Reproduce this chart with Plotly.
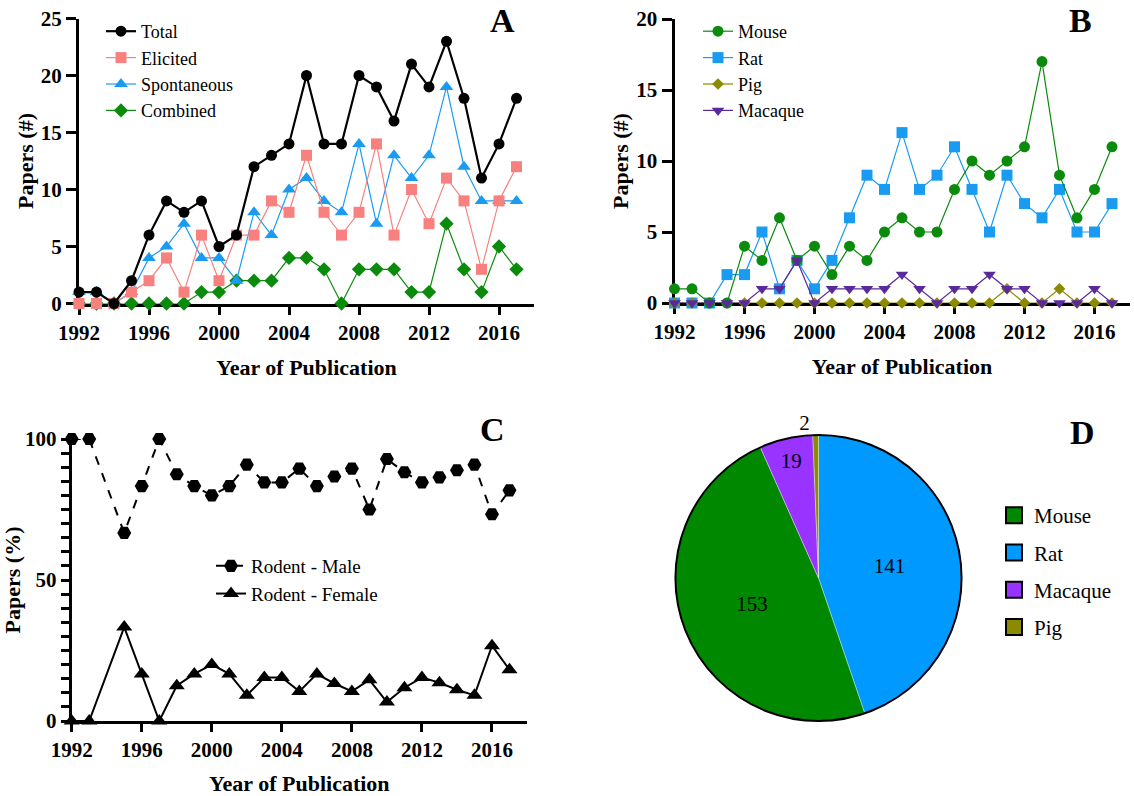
import plotly.graph_objects as go

W, H = 1134, 796
FONT = "Liberation Serif"

years = list(range(1992, 2018))
year_ticks = [1992, 1996, 2000, 2004, 2008, 2012, 2016]

# Panel A: papers by paradigm
a_total       = [1, 1, 0, 2, 6, 9, 8, 9, 5, 6, 12, 13, 14, 20, 14, 14, 20, 19, 16, 21, 19, 23, 18, 11, 14, 18]
a_elicited    = [0, 0, 0, 1, 2, 4, 1, 6, 2, 6, 6, 9, 8, 13, 8, 6, 8, 14, 6, 10, 7, 11, 9, 3, 9, 12]
a_spontaneous = [1, 1, 0, 1, 4, 5, 7, 4, 4, 2, 8, 6, 10, 11, 9, 8, 14, 7, 13, 11, 13, 19, 12, 9, 9, 9]
a_combined    = [0, 0, 0, 0, 0, 0, 0, 1, 1, 2, 2, 2, 4, 4, 3, 0, 3, 3, 3, 1, 1, 7, 3, 1, 5, 3]
a_yticks = [0, 5, 10, 15, 20, 25]

# Panel B: papers by species
b_mouse   = [1, 1, 0, 0, 4, 3, 6, 3, 4, 2, 4, 3, 5, 6, 5, 5, 8, 10, 9, 10, 11, 17, 9, 6, 8, 11]
b_rat     = [0, 0, 0, 2, 2, 5, 1, 3, 1, 3, 6, 9, 8, 12, 8, 9, 11, 8, 5, 9, 7, 6, 8, 5, 5, 7]
b_pig     = [0, 0, 0, 0, 0, 0, 0, 0, 0, 0, 0, 0, 0, 0, 0, 0, 0, 0, 0, 1, 0, 0, 1, 0, 0, 0]
b_macaque = [0, 0, 0, 0, 0, 1, 1, 3, 0, 1, 1, 1, 1, 2, 1, 0, 1, 1, 2, 1, 1, 0, 0, 0, 1, 0]
b_yticks = [0, 5, 10, 15, 20]

# Panel C: sex of rodents (%)
c_male   = [100, 100, None, 66.7, 83.3, 100, 87.5, 83.3, 80, 83.3, 90.9, 84.6, 84.6, 89.5, 83.3,
            86.7, 89.5, 75, 92.9, 88.2, 84.6, 86.4, 88.9, 90.9, 73.3, 81.8]
c_female = [0, 0, None, 33.3, 16.7, 0, 12.5, 16.7, 20, 16.7, 9.1, 15.4, 15.4, 10.5, 16.7,
            13.3, 10.5, 14.6, 6.7, 11.8, 15.4, 13.6, 11.1, 9.1, 26.7, 18.2]
c_yticks = [0, 50, 100]
c_minor_step = 5

# Panel D: totals by species
d_labels = ["Rat", "Mouse", "Macaque", "Pig"]
d_values = [141, 153, 19, 2]
d_colors = ["#0099FF", "#008800", "#9933FF", "#8B8B00"]
d_legend_order = ["Mouse", "Rat", "Macaque", "Pig"]


def px_x(p):
    return p / W


def px_y(p):
    return 1 - p / H


fig = go.Figure()

# ---- Panel A (drawn bottom to top) ----
a_series = [
    ("Combined", a_combined, "#0B8B0B", "diamond", 11, 1.2),
    ("Spontaneous", a_spontaneous, "#1A9BF2", "triangle-up", 12, 1.2),
    ("Elicited", a_elicited, "#F8807F", "square", 11, 1.2),
    ("Total", a_total, "#000000", "circle", 11, 2.2),
]
for name, vals, col, sym, sz, lw in a_series:
    fig.add_trace(go.Scatter(
        x=years, y=vals, name=name, mode="lines+markers",
        line=dict(color=col, width=lw),
        marker=dict(symbol=sym, size=sz, color=col),
        cliponaxis=False, xaxis="x", yaxis="y", legend="legend",
    ))

# ---- Panel B ----
b_series = [
    ("Rat", b_rat, "#1A9BF2", "square", 11, 2),
    ("Pig", b_pig, "#8C8A00", "diamond", 9, 3),
    ("Mouse", b_mouse, "#0B8B0B", "circle", 11, 1),
    ("Macaque", b_macaque, "#5A2A9A", "triangle-down", 11, 4),
]
for name, vals, col, sym, sz, rank in b_series:
    fig.add_trace(go.Scatter(
        x=years, y=vals, name=name, mode="lines+markers",
        line=dict(color=col, width=1.2),
        marker=dict(symbol=sym, size=sz, color=col),
        cliponaxis=False, xaxis="x2", yaxis="y2", legend="legend2", legendrank=rank,
    ))

# ---- Panel C ----
fig.add_trace(go.Scatter(
    x=years, y=c_male, name="Rodent - Male", mode="lines+markers", connectgaps=True,
    line=dict(color="black", width=2, dash="dash"),
    marker=dict(symbol="hexagon2", size=14, color="black"),
    cliponaxis=False, xaxis="x3", yaxis="y3", legend="legend3",
))
fig.add_trace(go.Scatter(
    x=years, y=c_female, name="Rodent - Female", mode="lines+markers", connectgaps=True,
    line=dict(color="black", width=2),
    marker=dict(symbol="triangle-up", size=14, color="black"),
    cliponaxis=False, xaxis="x3", yaxis="y3", legend="legend3",
))

# ---- Panel D ----
pie_dom = dict(x=[px_x(675.5), px_x(961.5)], y=[px_y(721), px_y(435)])
fig.add_trace(go.Pie(
    labels=d_labels, values=d_values, sort=False, direction="clockwise", rotation=0,
    marker=dict(colors=d_colors, line=dict(color="rgba(255,255,255,0.6)", width=0.6)),
    textinfo="value", textposition=["inside", "inside", "inside", "outside"],
    insidetextorientation="horizontal",
    textfont=dict(family=FONT, size=21, color="black"),
    domain=pie_dom, showlegend=False,
))
fig.add_trace(go.Pie(
    labels=["outline"], values=[1], sort=False,
    marker=dict(colors=["rgba(0,0,0,0)"], line=dict(color="black", width=2)),
    textinfo="none", hoverinfo="skip", domain=pie_dom, showlegend=False,
))
color_of = dict(zip(d_labels, d_colors))
for i, lab in enumerate(d_legend_order):
    fig.add_trace(go.Scatter(
        x=[None], y=[None], name=lab, mode="markers",
        marker=dict(symbol="square", size=16, color=color_of[lab], line=dict(color="black", width=2)),
        xaxis="x", yaxis="y", legend="legend4", legendgroup=lab,
    ))

axis_common = dict(
    showline=True, linecolor="black", linewidth=3, ticks="outside", tickwidth=3,
    tickcolor="black", showgrid=False, zeroline=False, layer="below traces",
    automargin=False,
    tickfont=dict(family=FONT, size=21, color="black", weight="bold"),
    title_font=dict(family=FONT, size=22, color="black", weight="bold"),
)


def xax(dom, rng, title, standoff):
    return dict(axis_common, domain=dom, range=rng, tickvals=year_ticks, ticklen=8,
                title=dict(text=title, standoff=standoff))


def yax(dom, rng, tv, title, standoff, anchor):
    return dict(axis_common, domain=dom, range=rng, tickvals=tv, ticklen=10,
                title=dict(text=title, standoff=standoff), anchor=anchor)


leg_common = dict(bgcolor="rgba(0,0,0,0)", borderwidth=0, xanchor="left", yanchor="top")

# Panel C axis: a tick every 5 %, labelled only at 0 / 50 / 100
c_dom = [px_y(721), px_y(439)]
c_rng = [c_yticks[0], c_yticks[-1]]
c_all_ticks = list(range(c_yticks[0], c_yticks[-1] + 1, c_minor_step))
c_ticktext = [str(v) if v in c_yticks else "" for v in c_all_ticks]
yaxis3 = yax(c_dom, c_rng, c_all_ticks, "Papers (%)", 0, "x3")
yaxis3.update(tickmode="array", ticktext=c_ticktext, ticklen=8, tickwidth=2.5)

fig.update_layout(
    template="none",
    width=W, height=H, margin=dict(l=0, r=0, t=0, b=0, autoexpand=False),
    paper_bgcolor="white", plot_bgcolor="white",
    font=dict(family=FONT, color="black"),
    xaxis=xax([px_x(79), px_x(534)], [1992, 2018], "Year of Publication", 16) | dict(anchor="y"),
    yaxis=yax([px_y(303.5), px_y(18.5)], [0, 25], a_yticks, "Papers (#)", 2, "x"),
    xaxis2=xax([px_x(674.5), px_x(1129.5)], [1992, 2018], "Year of Publication", 16) | dict(anchor="y2"),
    yaxis2=yax([px_y(303), px_y(19)], [0, 20], b_yticks, "Papers (#)", 2, "x2"),
    xaxis3=xax([px_x(71.7), px_x(527)], [1992, 2018], "Year of Publication", 16) | dict(anchor="y3"),
    yaxis3=yaxis3,
    legend=dict(leg_common, x=px_x(101), y=px_y(13), traceorder="reversed",
                font=dict(family=FONT, size=18, color="black")),
    legend2=dict(leg_common, x=px_x(698), y=px_y(13),
                 font=dict(family=FONT, size=18, color="black")),
    legend3=dict(leg_common, x=px_x(211), y=px_y(547),
                 font=dict(family=FONT, size=19, color="black")),
    legend4=dict(leg_common, x=px_x(994), y=px_y(495), traceorder="grouped", tracegroupgap=7,
                 font=dict(family=FONT, size=21, color="black")),
    showlegend=True,
)

letters = [("A", 502, 20), ("B", 1080, 20), ("C", 492, 430), ("D", 1082, 432)]
for t, x, y in letters:
    fig.add_annotation(text=t, x=px_x(x), y=px_y(y), xref="paper", yref="paper",
                       showarrow=False, xanchor="center", yanchor="middle",
                       font=dict(family=FONT, size=34, color="black", weight="bold"))

fig.write_html("out.html")
